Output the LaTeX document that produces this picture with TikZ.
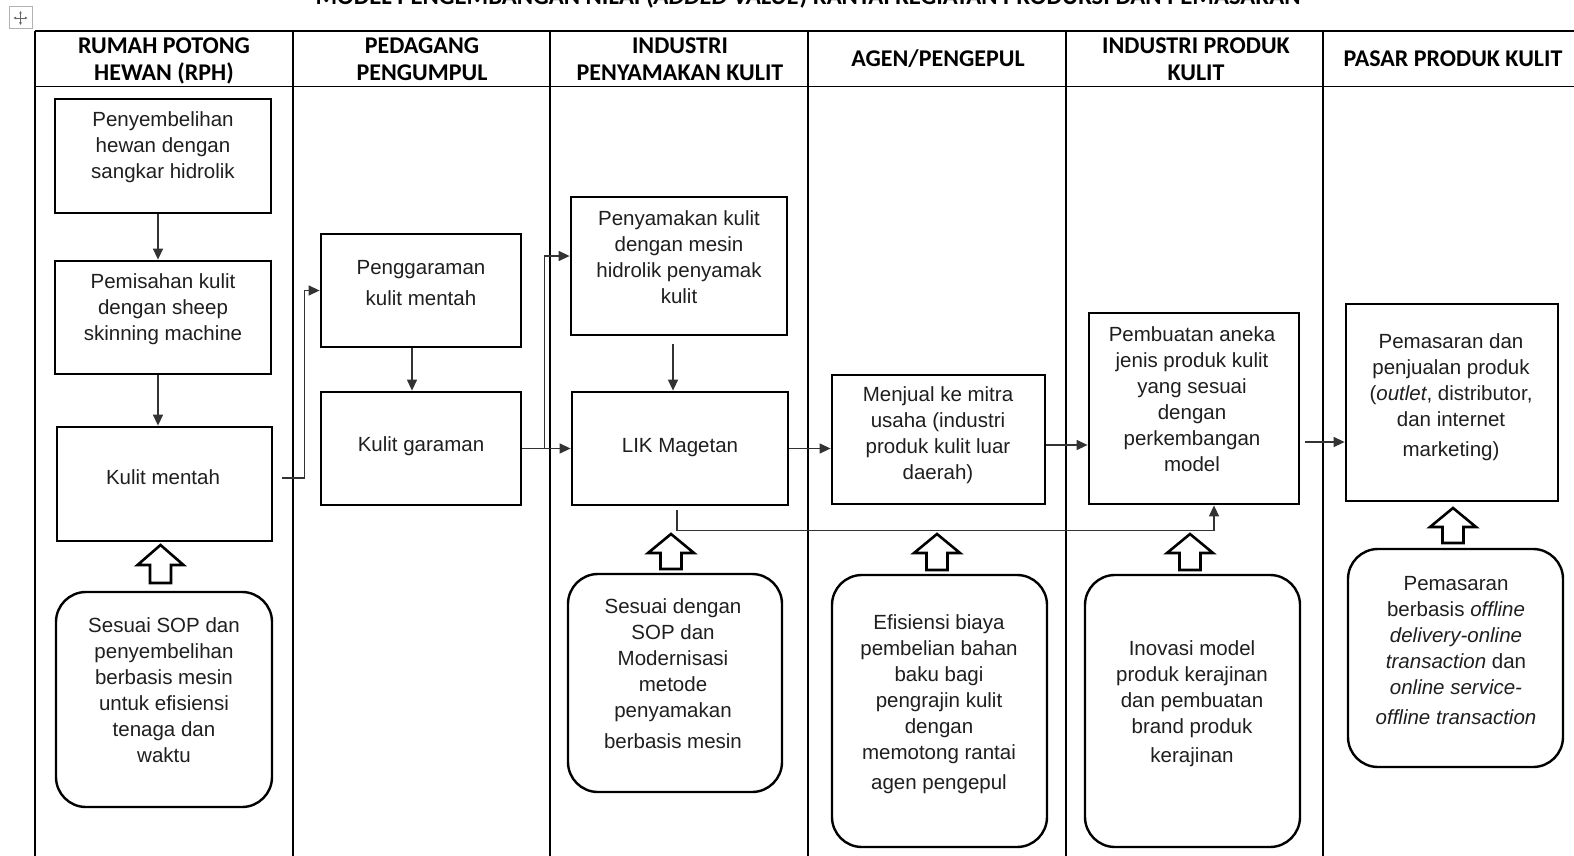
\documentclass[tikz,border=0pt]{standalone}
\usepackage{fontspec}
\setmainfont{Liberation Sans}
\newfontfamily\hdrfont{Carlito}
\usetikzlibrary{arrows.meta}

% centred stack of lines whose baseline is the first line
\newcommand{\stack}[1]{\begin{tabular}[t]{@{}c@{}}#1\end{tabular}}
% box from its corners: style, name, x1, y1, x2, y2
\newcommand{\mkbox}[6]{\node[#1, minimum width={(#5-#3)*1pt}, minimum height={(#6-#4)*1pt}] (#2) at ({(#3+#5)/2},{(#4+#6)/2}) {};}
% hollow block arrow pointing up: centre x, tip y, shoulder y, bottom y
\newcommand{\blockup}[4]{\draw[hollow] (#1,#2) -- ({#1+23},#3) -- ({#1+10.5},#3) -- ({#1+10.5},#4) -- ({#1-10.5},#4) -- ({#1-10.5},#3) -- ({#1-23},#3) -- cycle;}

\begin{document}
\begin{tikzpicture}[x=1pt,y=-1pt,
  grid/.style={line width=1.3pt, black},
  box/.style={draw, line width=2.8pt, inner sep=0pt},
  rbox/.style={draw, line width=2.4pt, rounded corners=30pt, inner sep=0pt},
  body/.style={inner sep=0pt, anchor=base, text=black!88, font=\fontsize{20.5pt}{26pt}\selectfont},
  head/.style={inner sep=0pt, anchor=base, text=black, font=\hdrfont\bfseries\fontsize{24pt}{27pt}\selectfont},
  flow/.style={draw=black!80, line width=1.3pt, -{Triangle[length=11pt,width=10pt]}},
  hollow/.style={draw, line width=2.6pt, fill=white, line join=miter}
]
\fill[white] (0,0) rectangle (1574,856);
\useasboundingbox (0,0) rectangle (1574,856);

% title (runs off the top edge)
\node[head, anchor=base, font=\hdrfont\bfseries\fontsize{24.7pt}{27pt}\selectfont] (title) at (808,5) {MODEL PENGEMBANGAN NILAI (\textit{ADDED VALUE}) RANTAI KEGIATAN PRODUKSI DAN PEMASARAN};

% table handle
\draw[black!30, line width=1pt] (9,7) rectangle (32,29);
\draw[black!60, line width=0.9pt, {Latex[length=2.5pt,width=3pt]}-{Latex[length=2.5pt,width=3pt]}] (13.5,18) -- (27.5,18);
\draw[black!60, line width=0.9pt, {Latex[length=2.5pt,width=3pt]}-{Latex[length=2.5pt,width=3pt]}] (20.5,11) -- (20.5,25);

% table grid
\draw[grid] (35,31) -- (1580,31);
\draw[grid] (35,86.5) -- (1580,86.5);
\foreach \x in {35,293,550,808,1066,1323} \draw[grid] (\x,31) -- (\x,862);

% column headings
\node[head] (h1) at (164,53.5) {\stack{RUMAH POTONG\\HEWAN (RPH)}};
\node[head] (h2) at (422,53.5) {\stack{PEDAGANG\\PENGUMPUL}};
\node[head] (h3) at (680,53.5) {\stack{INDUSTRI\\PENYAMAKAN KULIT}};
\node[head] (h4) at (938,67) {AGEN/PENGEPUL};
\node[head] (h5) at (1196,53.5) {\stack{INDUSTRI PRODUK\\KULIT}};
\node[head] (h6) at (1453,67) {PASAR PRODUK KULIT};

% column 1: RPH
\mkbox{box}{A1}{55}{99}{271}{213}
\node[body] (A1t) at (163,127) {\stack{Penyembelihan\\hewan dengan\\sangkar hidrolik}};
\mkbox{box}{A2}{55}{261}{271}{374}
\node[body] (A2t) at (163,288) {\stack{Pemisahan kulit\\dengan sheep\\skinning machine}};
\mkbox{box}{A3}{57}{427}{272}{541}
\node[body] (A3t) at (163,484) {Kulit mentah};
\mkbox{rbox}{A4}{56}{592}{272}{807}
\node[body] (A4t) at (164,632) {\stack{Sesuai SOP dan\\penyembelihan\\berbasis mesin\\untuk efisiensi\\tenaga dan\\waktu}};
\blockup{160.5}{545}{565}{583}

% column 2: pedagang pengumpul
\mkbox{box}{B1}{321}{234}{521}{347}
\node[body] (B1t) at (421,274) {\stack{Penggaraman\\[5pt]kulit mentah}};
\mkbox{box}{B2}{321}{392}{521}{505}
\node[body] (B2t) at (421,451) {Kulit garaman};

% column 3: industri penyamakan kulit
\mkbox{box}{C1}{571}{197}{787}{335}
\node[body] (C1t) at (679,225) {\stack{Penyamakan kulit\\dengan mesin\\hidrolik penyamak\\kulit}};
\mkbox{box}{C2}{572}{392}{788}{505}
\node[body] (C2t) at (680,452) {LIK Magetan};
\mkbox{rbox}{C3}{568}{574}{782}{792}
\node[body] (C3t) at (673,613) {\stack{Sesuai dengan\\SOP dan\\Modernisasi\\metode\\penyamakan\\[5pt]berbasis mesin}};
\blockup{671}{534}{553}{569}

% column 4: agen/pengepul
\mkbox{box}{D1}{832}{375}{1045}{504}
\node[body] (D1t) at (938,401) {\stack{Menjual ke mitra\\usaha (industri\\produk kulit luar\\daerah)}};
\mkbox{rbox}{D2}{832}{575}{1047}{847}
\node[body] (D2t) at (939,629) {\stack{Efisiensi biaya\\pembelian bahan\\baku bagi\\pengrajin kulit\\dengan\\memotong rantai\\[4pt]agen pengepul}};
\blockup{937}{534}{553}{570}

% column 5: industri produk kulit
\mkbox{box}{E1}{1089}{313}{1299}{504}
\node[body] (E1t) at (1192,341) {\stack{Pembuatan aneka\\jenis produk kulit\\yang sesuai\\dengan\\perkembangan\\model}};
\mkbox{rbox}{E2}{1085}{575}{1300}{847}
\node[body] (E2t) at (1192,655) {\stack{Inovasi model\\produk kerajinan\\dan pembuatan\\brand produk\\[3pt]kerajinan}};
\blockup{1190}{534}{553}{570}

% column 6: pasar produk kulit
\mkbox{box}{F1}{1346}{304}{1558}{501}
\node[body] (F1t) at (1451,348) {\stack{Pemasaran dan\\penjualan produk\\(\textit{outlet}, distributor,\\dan internet\\[4pt]marketing)}};
\mkbox{rbox}{F2}{1348}{549}{1563}{767}
\node[body] (F2t) at (1456,590) {\stack{Pemasaran\\berbasis \textit{offline}\\\textit{delivery-online}\\\textit{transaction} dan\\\textit{online service-}\\[4pt]\textit{offline transaction}}};
\blockup{1453}{508}{527}{543}

% flow connectors
\draw[flow] ([xshift=-5pt]A1.south) -- ([xshift=-5pt]A1.south |- A2.north);
\draw[flow] ([xshift=-5pt]A2.south) -- ([xshift=-5pt]A2.south |- A3.north);
\draw[flow] ([shift={(9,-6)}]A3.east) -- ++(22,0) |- (B1.west);
\draw[flow] ([xshift=-9pt]B1.south) -- ([xshift=-9pt]B1.south |- B2.north);
\draw[flow] (B2.east) -- (C2.west);
\draw[flow] ([xshift=22pt]B2.east) |- ([yshift=10pt]C1.west);
\draw[flow] ([shift={(-6,8)}]C1.south) -- ([xshift=-6pt]C1.south |- C2.north);
\draw[flow] (C2.east) -- (C2.east -| D1.west);
\draw[flow] ([yshift=-5.5pt]D1.east) -- ([yshift=-5.5pt]D1.east -| E1.west);
\draw[flow] ([shift={(5,33.5)}]E1.east) -- ([yshift=-33.5pt]E1.east -| F1.west);
\draw[flow] ([shift={(-3,4)}]C2.south) -- ++(0,20) -| ([xshift=20pt]E1.south);
\end{tikzpicture}
\end{document}
